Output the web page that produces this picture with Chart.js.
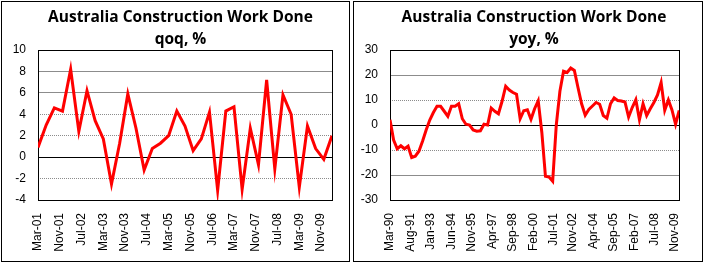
<!DOCTYPE html>
<html lang="en">
<head>
<meta charset="UTF-8">
<title>Australia Construction Work Done</title>
<script src="https://cdn.jsdelivr.net/npm/chart.js"></script>
<style>
  * { margin: 0; padding: 0; box-sizing: border-box; }
  body { background: #fff; width: 707px; height: 264px; position: relative; overflow: hidden; }
  .panel { position: absolute; top: 1px; height: 261px; border: 1px solid #000; background: #fff; }
  #p1 { left: 1px; width: 349px; }
  #p2 { left: 353px; width: 350px; }
  canvas { display: block; }
  .title { position: absolute; top: 5px; text-align: center; font-family: 'Open Sans', sans-serif;
           font-weight: bold; font-size: 15.5px; line-height: 22.3px; color: #000; z-index: 2; white-space: nowrap; }
  #t1 { left: 0; width: 361px; }
  #t2 { left: 354px; width: 360px; }
</style>
</head>
<body>
<div class="panel" id="p1"><canvas id="qoq"></canvas></div>
<div class="panel" id="p2"><canvas id="yoy"></canvas></div>
<div class="title" id="t1">Australia Construction Work Done<br>qoq, %</div>
<div class="title" id="t2">Australia Construction Work Done<br>yoy, %</div>
<script>
// quarterly qoq % change, Mar-01 .. Mar-10
const qoqValues = [0.9, 3.0, 4.6, 4.3, 8.2, 2.4, 6.2, 3.4, 1.7, -2.5,
  1.3, 5.9, 2.7, -1.2, 0.8, 1.3, 2.0, 4.3, 2.9, 0.6,
  1.7, 4.2, -3.1, 4.3, 4.7, -3.0, 2.7, -0.7, 7.2, -1.1,
  5.8, 4.0, -2.8, 2.9, 0.8, -0.2, 2.0];
const qoqTicks = ['Mar-01', 'Nov-01', 'Jul-02', 'Mar-03', 'Nov-03', 'Jul-04', 'Mar-05',
  'Nov-05', 'Jul-06', 'Mar-07', 'Nov-07', 'Jul-08', 'Mar-09', 'Nov-09'];

// quarterly yoy % change, Mar-90 .. Mar-10
const yoyValues = [2.1, -6, -9.5, -8.3, -9.5, -8.5, -13, -12.5, -10.5, -6.5,
  -2, 2, 5, 7.5, 7.5, 5.5, 3.5, 7.5, 7.5, 8.5,
  2.5, 0.3, 0, -2, -2.5, -2.3, 0.3, 0, 6.8, 5.5,
  4.5, 9.5, 15.5, 14, 13, 12.3, 2.5, 5.7, 6.1, 2.3,
  6.5, 9.7, -3, -20.5, -20.8, -22.5, 0, 13.5, 21.5, 21,
  22.8, 21.8, 15, 8.5, 3.9, 6.2, 7.6, 9, 8.3, 3.8,
  2.7, 8.5, 10.8, 9.8, 9.6, 9.2, 3.2, 7, 10.1, 2.1,
  8.5, 3.8, 6.5, 9, 12, 17, 5.9, 10, 6, 0.3,
  5.8];
const yoyTicks = ['Mar-90', 'Aug-91', 'Jan-93', 'Jun-94', 'Nov-95', 'Apr-97', 'Sep-98', 'Feb-00',
  'Jul-01', 'Nov-02', 'Apr-04', 'Sep-05', 'Feb-07', 'Jul-08', 'Nov-09'];

const MONTHS = ['Jan', 'Feb', 'Mar', 'Apr', 'May', 'Jun', 'Jul', 'Aug', 'Sep', 'Oct', 'Nov', 'Dec'];

function monthIndex(label) {
  const [m, yy] = label.split('-');
  const y = +yy < 50 ? 2000 + +yy : 1900 + +yy;
  return y * 12 + MONTHS.indexOf(m);
}
function monthLabel(v) {
  return MONTHS[v % 12] + '-' + String(Math.floor(v / 12) % 100).padStart(2, '0');
}
function quarters(start, n) {
  const s = monthIndex(start);
  return Array.from({ length: n }, (_, i) => monthLabel(s + 3 * i));
}

const qoqCategories = quarters('Mar-01', qoqValues.length);
const yoyCategories = quarters('Mar-90', yoyValues.length);

// dotted grid line pattern
const dotCanvas = document.createElement('canvas');
dotCanvas.width = 2; dotCanvas.height = 1;
const dctx = dotCanvas.getContext('2d');
dctx.fillStyle = '#8c8c8c';
dctx.fillRect(0, 0, 1, 1);
const dotted = dctx.createPattern(dotCanvas, 'repeat');

const frame = {
  id: 'frame',
  beforeDatasetsDraw(chart) {
    const { ctx, chartArea: a } = chart;
    ctx.save();
    ctx.strokeStyle = '#000';
    ctx.lineWidth = 1;
    ctx.strokeRect(Math.round(a.left) + 0.5, Math.round(a.top) + 0.5,
      Math.round(a.right - a.left), Math.round(a.bottom - a.top));
    ctx.restore();
  }
};

const tickFont = { family: 'Liberation Sans', size: 12 };

function makeChart(id, cats, values, tickLabels, ymin, ymax, step, dottedAt, padRight) {
  return new Chart(document.getElementById(id), {
    type: 'line',
    data: {
      datasets: [{
        data: cats.map((c, i) => ({ x: monthIndex(c), y: values[i] })),
        borderColor: '#ff0000',
        borderWidth: 3,
        pointRadius: 0,
        tension: 0,
        fill: false
      }]
    },
    options: {
      responsive: true,
      maintainAspectRatio: false,
      animation: false,
      layout: { padding: { left: 0, right: padRight, top: 48, bottom: 0 } },
      plugins: {
        legend: { display: false },
        tooltip: { enabled: false },
        title: { display: false }
      },
      scales: {
        x: {
          type: 'linear',
          min: monthIndex(cats[0]),
          max: monthIndex(cats[cats.length - 1]),
          afterBuildTicks: s => { s.ticks = tickLabels.map(l => ({ value: monthIndex(l) })); },
          afterFit: s => { s.height = 61; },
          grid: { display: false, drawTicks: false },
          border: { display: false },
          ticks: {
            autoSkip: false, minRotation: 90, maxRotation: 90, padding: 13,
            color: '#000', font: tickFont,
            callback: v => monthLabel(v)
          }
        },
        y: {
          min: ymin,
          max: ymax,
          afterFit: s => { s.width = 36; },
          border: { display: false },
          grid: {
            drawTicks: false,
            lineWidth: 1,
            color: c => {
              const v = c.tick.value;
              if (v === 0 || v === ymin || v === ymax) return '#000';
              if (dottedAt.includes(v)) return dotted;
              return '#8c8c8c';
            }
          },
          ticks: { stepSize: step, padding: 12, color: '#000', font: tickFont }
        }
      }
    },
    plugins: [frame]
  });
}

makeChart('qoq', qoqCategories, qoqValues, qoqTicks, -4, 10, 2, [4, 2, -2], 14);
makeChart('yoy', yoyCategories, yoyValues, yoyTicks, -30, 30, 10, [10, -10], 13);
</script>
</body>
</html>
